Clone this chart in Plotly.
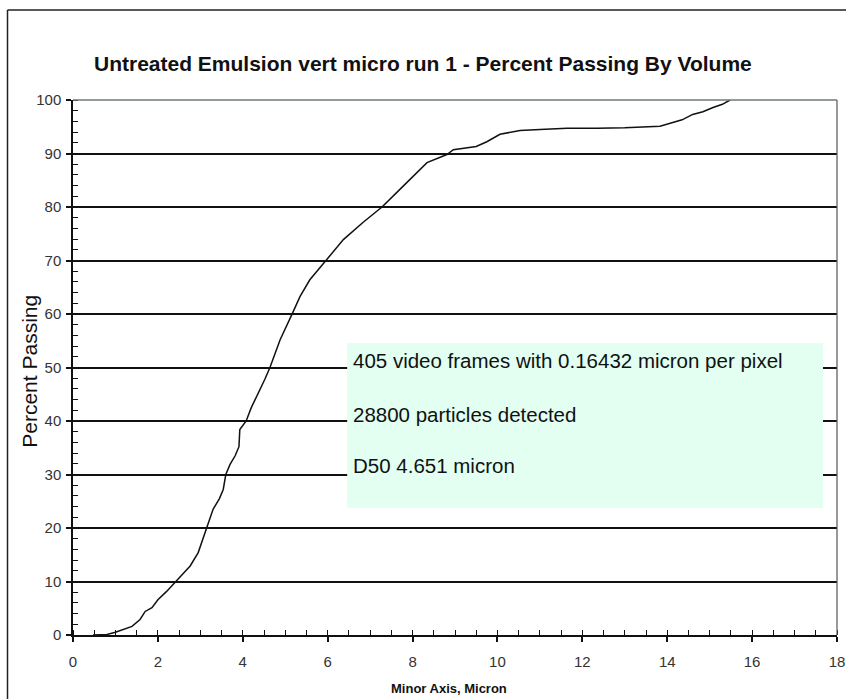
import plotly.graph_objects as go

# Curve data
minor_axis_micron = [0.47, 0.8, 1.0, 1.18, 1.39, 1.58, 1.7, 1.86, 2.0, 2.2,
                     2.4, 2.6, 2.76, 2.95, 3.06, 3.15, 3.3, 3.45, 3.54, 3.6,
                     3.7, 3.82, 3.91, 3.93, 4.08, 4.2, 4.33, 4.52, 4.64, 4.88,
                     5.18, 5.35, 5.58, 5.98, 6.37, 6.83, 7.28, 7.6, 7.94, 8.34,
                     8.81, 8.96, 9.5, 9.75, 10.06, 10.53, 11.0, 11.64, 12.35, 13.0,
                     13.83, 14.14, 14.35, 14.6, 14.84, 15.08, 15.3, 15.48]
percent_passing = [0, 0.1, 0.5, 1.0, 1.6, 2.9, 4.4, 5.1, 6.6, 8.1,
                   9.8, 11.7, 12.9, 15.4, 17.9, 20, 23.5, 25.5, 27.2, 30,
                   31.9, 33.5, 35.2, 38.4, 40, 42.5, 44.6, 47.8, 50, 55.2,
                   60.3, 63.3, 66.4, 70.2, 73.9, 77.1, 80, 82.5, 85.1, 88.3,
                   89.8, 90.7, 91.3, 92.2, 93.6, 94.3, 94.5, 94.7, 94.7, 94.8,
                   95.1, 95.8, 96.3, 97.3, 97.8, 98.6, 99.2, 100]

x_ticks = [0, 2, 4, 6, 8, 10, 12, 14, 16, 18]
y_ticks = [0, 10, 20, 30, 40, 50, 60, 70, 80, 90, 100]

title_text = "Untreated Emulsion vert micro run 1 - Percent Passing By Volume"
x_title = "Minor Axis, Micron"
y_title = "Percent Passing"
info_lines = ["405 video frames with 0.16432 micron per pixel",
              "28800 particles detected",
              "D50 4.651 micron"]
info_y = [51.4, 41.3, 31.6]

FONT = "Liberation Sans, Arial, sans-serif"

fig = go.Figure()
fig.add_trace(go.Scatter(x=minor_axis_micron, y=percent_passing, mode="lines",
                         line=dict(color="#111111", width=1.5), showlegend=False,
                         hoverinfo="skip"))

W, H = 846, 699
ml, mr, mt, mb = 73, 9, 100, 63.5

fig.update_layout(
    width=W, height=H,
    margin=dict(l=ml, r=mr, t=mt, b=mb, pad=0, autoexpand=False),
    paper_bgcolor="white", plot_bgcolor="white",
    font=dict(family=FONT, color="#222222"),
    showlegend=False,
)

fig.update_xaxes(
    range=[0, 18], tickvals=x_ticks, ticktext=[str(v) for v in x_ticks],
    showgrid=False, zeroline=False, automargin=False,
    showline=True, linecolor="#111111", linewidth=1.5,
    ticks="outside", ticklen=5, tickcolor="#111111", tickwidth=1.5,
    tickfont=dict(size=15, family=FONT, color="#333333"),
    ticklabelstandoff=7,
    minor=dict(dtick=0.5, ticks="inside", ticklen=5, tickcolor="#111111", tickwidth=1, showgrid=False),
)
fig.update_yaxes(
    range=[0, 100], tickvals=y_ticks, ticktext=[str(v) for v in y_ticks],
    showgrid=True, gridcolor="#111111", gridwidth=1.5, zeroline=False, automargin=False,
    showline=True, linecolor="#111111", linewidth=1.5,
    ticks="outside", ticklen=5, tickcolor="#111111", tickwidth=1.5,
    tickfont=dict(size=15, family=FONT, color="#333333"),
    ticklabelstandoff=2,
    minor=dict(dtick=2, ticks="inside", ticklen=5, tickcolor="#111111", tickwidth=1, showgrid=False),
)

pw = W - ml - mr
ph = H - mt - mb

def px_x(p):
    return (p - ml) / pw

def px_y(p):
    return (H - mb - p) / ph

shapes = []
# info box (covers grid lines)
shapes.append(dict(type="rect", xref="x", yref="y", x0=6.46, x1=17.67, y0=23.8, y1=54.6,
                   fillcolor="#E2FFF1", line=dict(width=0), layer="above"))
# top plot border (gray)
shapes.append(dict(type="line", xref="paper", yref="paper", x0=0, x1=1, y0=1, y1=1,
                   line=dict(color="#6e7a78", width=1.5)))
# right plot border
shapes.append(dict(type="line", xref="paper", yref="paper", x0=1, x1=1, y0=0, y1=1,
                   line=dict(color="#555555", width=1.2)))
# outer chart frame
shapes.append(dict(type="line", xref="paper", yref="paper",
                   x0=px_x(7.5), x1=px_x(850), y0=px_y(10), y1=px_y(10),
                   line=dict(color="#222222", width=1.5)))
shapes.append(dict(type="line", xref="paper", yref="paper",
                   x0=px_x(7.5), x1=px_x(7.5), y0=px_y(10), y1=px_y(705),
                   line=dict(color="#222222", width=1.5)))
fig.update_layout(shapes=shapes)

annotations = [
    dict(text=title_text, xref="paper", yref="paper", x=px_x(423), y=px_y(63),
         xanchor="center", yanchor="middle", showarrow=False,
         font=dict(size=21, family=FONT, color="#111111", weight="bold")),
    dict(text=y_title, xref="paper", yref="paper", x=px_x(30), y=px_y(372),
         xanchor="center", yanchor="middle", showarrow=False, textangle=-90,
         font=dict(size=21, family=FONT, color="#111111")),
    dict(text=x_title, xref="paper", yref="paper", x=px_x(449), y=px_y(689),
         xanchor="center", yanchor="middle", showarrow=False,
         font=dict(size=13, family=FONT, color="#111111", weight="bold")),
]
for line, yv in zip(info_lines, info_y):
    annotations.append(dict(text=line, xref="x", yref="y", x=6.55, y=yv,
                            xanchor="left", yanchor="middle", showarrow=False,
                            font=dict(size=20.5, family=FONT, color="#111111")))
fig.update_layout(annotations=annotations)

fig.write_html("out.html", config={"displayModeBar": False},
               post_script="document.body.style.margin='0';document.body.style.overflow='hidden';")
